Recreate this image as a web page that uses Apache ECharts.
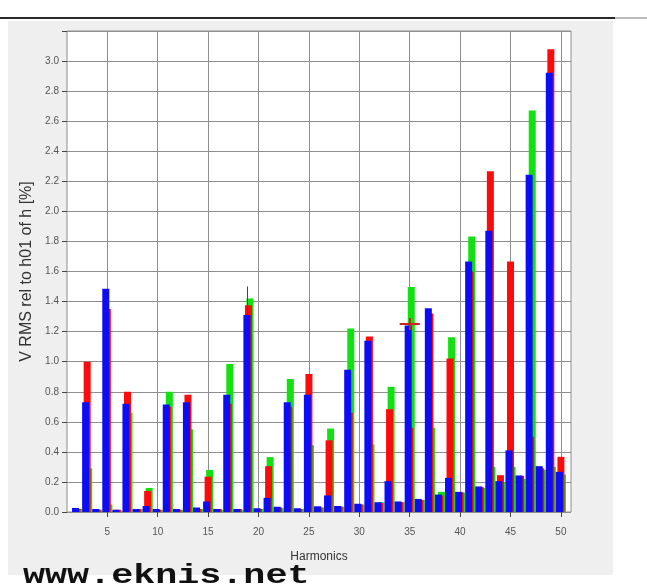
<!DOCTYPE html>
<html>
<head>
<meta charset="utf-8">
<script src="https://cdn.jsdelivr.net/npm/echarts@6/dist/echarts.min.js"></script>
<style>
html,body{margin:0;padding:0;background:#fff;}
#chart{width:647px;height:585px;}
</style>
</head>
<body>
<div id="chart"></div>
<script>
// Harmonic orders shown on the axis (1..51 slots, bars for 2..50)
const harmonics = Array.from({length: 51}, (_, i) => String(i + 1));
const shownHarmonics = [2,3,4,5,6,7,8,9,10,11,12,13,14,15,16,17,18,19,20,21,22,23,24,25,26,27,28,29,30,31,32,33,34,35,36,37,38,39,40,41,42,43,44,45,46,47,48,49,50];
// V RMS relative to h01 [%], per phase
const phaseBlue  = [0.027,0.73,0.02,1.485,0.015,0.72,0.02,0.04,0.02,0.715,0.02,0.73,0.03,0.07,0.02,0.78,0.02,1.31,0.025,0.094,0.035,0.73,0.025,0.78,0.038,0.11,0.04,0.946,0.055,1.14,0.065,0.205,0.07,1.24,0.087,1.356,0.116,0.227,0.134,1.667,0.17,1.871,0.205,0.41,0.243,2.244,0.305,2.922,0.267];
const phaseRed   = [0.02,1.00,0.015,1.35,0.015,0.80,0.02,0.14,0.015,0.70,0.015,0.78,0.02,0.235,0.02,0.72,0.02,1.375,0.02,0.305,0.03,0.70,0.02,0.918,0.03,0.477,0.035,0.66,0.05,1.167,0.06,0.684,0.065,0.56,0.08,1.32,0.11,1.022,0.13,1.60,0.165,2.267,0.245,1.667,0.24,0.50,0.29,3.078,0.367];
const phaseGreen = [0.02,0.29,0.015,0.05,0.01,0.66,0.02,0.16,0.015,0.80,0.015,0.55,0.02,0.28,0.015,0.985,0.015,1.42,0.02,0.365,0.025,0.885,0.02,0.445,0.03,0.555,0.035,1.22,0.05,0.45,0.065,0.833,0.065,1.497,0.08,0.56,0.134,1.163,0.13,1.833,0.16,0.30,0.20,0.30,0.22,2.671,0.28,0.30,0.25];
const yTicks = [0,0.2,0.4,0.6,0.8,1.0,1.2,1.4,1.6,1.8,2.0,2.2,2.4,2.6,2.8,3.0];
// Cursor markers seen on the screen capture
const cursorH19 = {harmonic: '19', from: 1.31, to: 1.50};
const cursorH35 = {harmonic: '35', level: 1.25, from: '34', to: '36', tickFrom: 1.21, tickTo: 1.29};

function toSlots(vals){
  const out = harmonics.map(() => '-');
  shownHarmonics.forEach((h, i) => { out[h - 1] = vals[i]; });
  return out;
}

const chart = echarts.init(document.getElementById('chart'), null, {renderer: 'canvas'});
const font = '"Liberation Sans Narrow","Liberation Sans",Arial,sans-serif';
const gridColor = '#8e8e8e';

function barSeries(name, vals, color, z, extra){
  return Object.assign({
    name, type: 'bar', data: toSlots(vals), z,
    barWidth: 7, barGap: '-78%',
    itemStyle: {color},
    emphasis: {disabled: true}
  }, extra || {});
}

chart.setOption({
  animation: false,
  backgroundColor: '#ffffff',
  graphic: [
    {type: 'rect', z: -10, shape: {x: 8, y: 21, width: 605, height: 554}, style: {fill: '#efefef'}},
    {type: 'line', z: -5, shape: {x1: 0, y1: 18, x2: 615, y2: 18}, style: {stroke: '#2a2a2a', lineWidth: 2}},
    {type: 'line', z: -5, shape: {x1: 615, y1: 18, x2: 647, y2: 18}, style: {stroke: '#bbbbbb', lineWidth: 2}},
    {type: 'text', z: 50, x: 23, y: 563, scaleX: 1.36,
      style: {text: 'www.eknis.net', font: 'bold 27px "Liberation Mono", "DejaVu Sans Mono", monospace', fill: '#111'}}
  ],
  grid: {
    left: 67, top: 31, right: 76, bottom: 73,
    show: true, backgroundColor: '#ffffff', borderColor: gridColor, borderWidth: 1,
    containLabel: false
  },
  xAxis: {
    type: 'category', data: harmonics, boundaryGap: false,
    offset: 5,
    name: 'Harmonics', nameLocation: 'middle', nameGap: 34,
    nameTextStyle: {fontFamily: font, fontSize: 12, color: '#333'},
    axisLine: {show: false},
    axisTick: {show: true, length: 5, interval: (i, v) => Number(v) % 5 === 0, lineStyle: {color: '#444'}},
    axisLabel: {interval: (i, v) => Number(v) % 5 === 0, fontFamily: font, fontSize: 10, color: '#555', margin: 10},
    splitLine: {show: true, interval: (i, v) => Number(v) % 5 === 0, lineStyle: {color: gridColor, width: 1}}
  },
  yAxis: {
    type: 'value', min: 0, max: 3.2, interval: 0.2,
    name: 'V RMS rel to h01 of h [%]', nameLocation: 'middle', nameGap: 30,
    nameTextStyle: {fontFamily: font, fontSize: 16, color: '#333'},
    axisLine: {show: false},
    axisTick: {show: true, length: 5, lineStyle: {color: '#444'}},
    axisLabel: {
      fontFamily: font, fontSize: 10, color: '#555', margin: 8,
      formatter: v => (yTicks.some(t => Math.abs(t - v) < 1e-6) ? v.toFixed(1) : '')
    },
    splitLine: {show: true, lineStyle: {color: gridColor, width: 1}}
  },
  series: [
    barSeries('L1', phaseBlue, '#0c0cf5', 5, {
      markLine: {
        silent: true, symbol: 'none', label: {show: false}, z: 6,
        lineStyle: {color: '#444', width: 1, type: 'solid'},
        data: [[{coord: [cursorH19.harmonic, cursorH19.from]}, {coord: [cursorH19.harmonic, cursorH19.to]}]]
      }
    }),
    barSeries('L2', phaseRed, '#fa0c0c', 4, {
      markLine: {
        silent: true, symbol: 'none', label: {show: false}, z: 7,
        lineStyle: {color: '#d02020', width: 2, type: 'solid'},
        data: [
          [{coord: [cursorH35.from, cursorH35.level]}, {coord: [cursorH35.to, cursorH35.level]}],
          [{coord: [cursorH35.harmonic, cursorH35.tickFrom]}, {coord: [cursorH35.harmonic, cursorH35.tickTo]}]
        ]
      }
    }),
    barSeries('L3', phaseGreen, '#12e012', 3)
  ]
});
</script>
</body>
</html>
